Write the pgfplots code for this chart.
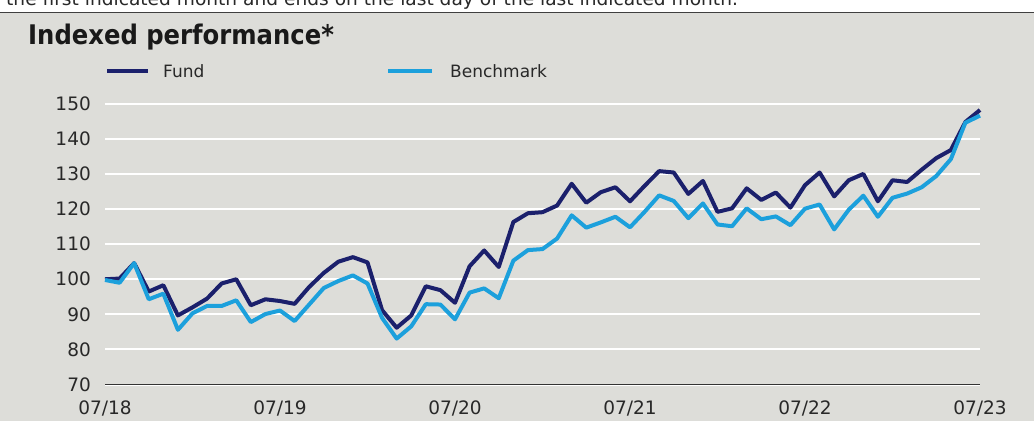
\documentclass[border=0pt]{standalone}
\usepackage{pgfplots}
\pgfplotsset{compat=1.18}
\usepackage{fontspec}
\setmainfont{DejaVu Sans}
\newfontfamily\titlefont{DejaVu Sans Condensed}[BoldFont={DejaVu Sans Condensed Bold}]
\definecolor{bg}{RGB}{221,221,217}
\definecolor{fundc}{RGB}{27,32,108}
\definecolor{benchc}{RGB}{28,160,220}
\definecolor{txt}{RGB}{40,40,40}
\pgfplotstableread{
i fund bench
0 100.0 99.8
1 100.2 99.0
2 104.6 104.6
3 96.5 94.3
4 98.3 95.9
5 89.7 85.6
6 92.0 90.3
7 94.5 92.4
8 98.8 92.4
9 100.0 94.0
10 92.6 87.8
11 94.3 90.1
12 93.8 91.1
13 93.0 88.1
14 97.8 92.8
15 101.8 97.5
16 105.0 99.5
17 106.3 101.1
18 104.8 98.8
19 91.2 89.0
20 86.2 83.1
21 89.7 86.6
22 98.0 92.9
23 96.9 92.8
24 93.3 88.6
25 103.7 96.2
26 108.2 97.4
27 103.5 94.6
28 116.3 105.3
29 118.8 108.3
30 119.1 108.6
31 121.0 111.6
32 127.2 118.2
33 121.8 114.7
34 124.8 116.2
35 126.2 117.8
36 122.2 114.8
37 126.6 119.2
38 130.8 123.9
39 130.4 122.3
40 124.3 117.4
41 128.0 121.6
42 119.2 115.6
43 120.2 115.1
44 125.9 120.2
45 122.6 117.1
46 124.7 117.9
47 120.4 115.4
48 126.8 120.1
49 130.4 121.3
50 123.6 114.2
51 128.2 119.8
52 130.0 123.8
53 122.2 117.8
54 128.2 123.2
55 127.7 124.4
56 131.2 126.2
57 134.5 129.4
58 136.8 134.2
59 144.8 144.6
60 148.2 146.6
}\perfdata
\begin{document}
\begin{tikzpicture}[x=1pt,y=1pt]
\useasboundingbox (0,0) rectangle (1034,421);
\clip (0,0) rectangle (1034,421);
\fill[white] (0,0) rectangle (1034,421);
\fill[bg] (0,0) rectangle (1034,408.5);
\draw[black!75, line width=1.5pt] (0,408.5) -- (1034,408.5);
\node[anchor=base west, inner sep=0pt, text=txt, font=\fontsize{18.6}{20}\selectfont] at (6,415.5) {the first indicated month and ends on the last day of the last indicated month.};
\node[anchor=base west, inner sep=0pt, text=black!90, font=\titlefont\bfseries\fontsize{27}{30}\selectfont] at (28,376) {Indexed performance*};
\draw[fundc, line width=4pt] (107,350) -- (148,350);
\node[anchor=base west, inner sep=0pt, text=txt, font=\fontsize{17}{20}\selectfont] at (163,343.5) {Fund};
\draw[benchc, line width=4pt] (388,350) -- (432,350);
\node[anchor=base west, inner sep=0pt, text=txt, font=\fontsize{17}{20}\selectfont] at (450,343.5) {Benchmark};
\begin{axis}[
  at={(105pt,36.4pt)}, anchor=south west,
  scale only axis, width=875pt, height=280.9pt,
  xmin=0, xmax=60, ymin=70, ymax=150,
  axis x line*=bottom, axis y line*=left,
  y axis line style={draw=none},
  x axis line style={draw=black!80, line width=1.4pt, -},
  major tick length=0pt,
  xtick={0,12,24,36,48,60},
  xticklabels={07/18,07/19,07/20,07/21,07/22,07/23},
  ytick={70,80,...,150},
  ymajorgrids, grid style={white, line width=2pt},
  /pgf/number format/assume math mode=true,
  tick label style={font=\fontsize{18.5}{20}\selectfont, text=txt},
  yticklabel style={anchor=east, inner sep=0pt, xshift=-14pt},
  xticklabel style={anchor=base, inner sep=0pt, yshift=-30pt},
  clip=false,
]
\addplot[fundc, line width=4pt, line join=round] table[x=i, y=fund] {\perfdata};
\addplot[benchc, line width=4pt, line join=round] table[x=i, y=bench] {\perfdata};
\end{axis}
\end{tikzpicture}
\end{document}
